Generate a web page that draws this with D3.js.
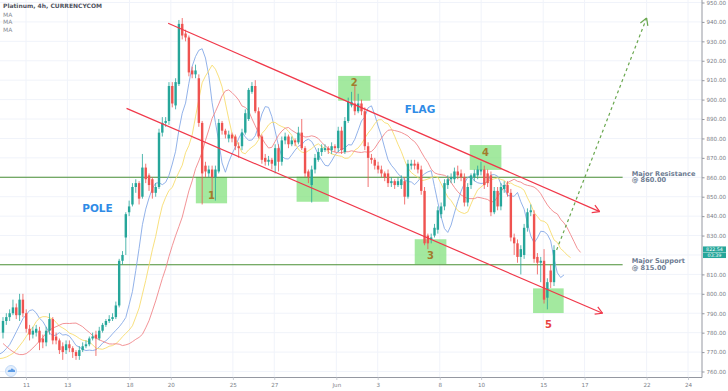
<!DOCTYPE html>
<html><head><meta charset="utf-8">
<script src="https://cdn.jsdelivr.net/npm/d3@7"></script>
<style>body{margin:0;background:#fff;} svg{display:block;font-family:"DejaVu Sans",sans-serif;}</style>
</head><body><svg id="c" width="728" height="391"></svg>
<script>
// ---------- DATA (Platinum, 4h candles) ----------
const opens  = [780,786,788,790,793,789,797,790,782,779,780,781,777,775,781,787,778,776,773,771,774,772,770,768,771,773,774,777,779,777,781,784,786,787,788,794,817,829,842,846,855,857,850,865,861,859,852,855,883,888,889,907,897,908,939,934,932,915,913,911,888,866,862,864,860,863,888,884,880,882,881,876,876,883,890,904,907,894,881,870,868,869,866,875,868,879,881,877,879,878,883,875,863,856,864,869,873,874,875,874,876,875,884,873,889,897,898,894,898,894,876,870,869,866,864,862,862,857,858,856,856,858,850,866,867,867,864,853,830,828,830,833,841,845,856,859,859,863,862,860,847,856,860,861,863,864,862,861,842,853,845,854,856,852,829,826,819,820,834,842,841,819,816,817,798,812,806];
const highs  = [788,790,792,797,795,800,800,792,784,783,784,783,779,783,790,788,780,777,775,776,776,773,771,773,775,776,778,780,781,783,785,787,789,790,796,818,822,842,848,857,859,858,872,867,862,860,857,885,891,891,909,909,911,941,942,936,933,917,918,913,889,868,866,866,866,890,889,885,884,883,882,878,885,895,906,909,910,896,882,872,871,870,877,877,881,883,882,881,880,886,890,876,864,866,872,875,877,877,876,878,877,886,886,891,901,904,907,903,900,896,878,872,870,868,866,863,864,860,859,860,861,860,869,869,869,868,866,855,831,831,836,845,847,859,861,862,865,866,864,862,857,862,864,866,868,866,864,863,855,855,857,858,858,854,831,828,825,836,844,846,843,821,819,823,808,815,825];
const lows   = [777,784,786,789,787,786,788,780,776,777,778,771,772,773,779,774,774,769,766,769,770,767,766,766,770,772,773,776,768,776,780,783,785,786,787,793,815,820,840,845,852,846,849,857,853,849,850,854,881,886,887,896,895,907,931,930,912,911,911,886,846,860,860,849,848,862,882,880,878,878,874,870,874,882,889,903,893,880,867,866,866,864,862,863,866,877,875,876,876,877,874,860,857,847,862,868,871,873,872,872,873,873,872,872,888,896,892,893,892,874,855,867,864,862,860,858,855,855,854,855,854,846,849,864,864,862,851,825,823,826,829,831,839,843,854,857,857,859,858,845,845,854,858,859,861,854,855,840,841,843,843,852,850,827,820,816,810,818,832,840,816,810,806,795,792,803,804];
const closes = [786,788,790,793,789,797,790,782,779,781,782,775,775,781,787,776,776,771,770,774,772,770,768,771,773,774,777,778,777,781,784,786,787,788,794,817,820,841,845,855,857,849,865,859,856,852,855,883,888,889,907,898,909,939,933,932,914,913,915,888,862,863,864,860,864,888,884,882,882,880,876,875,883,893,905,907,894,881,869,868,869,867,875,868,879,881,877,879,878,883,875,862,860,864,870,873,875,875,874,876,875,884,874,889,899,899,894,898,894,876,870,869,866,864,862,860,857,858,856,858,859,850,867,867,866,864,853,826,826,829,834,843,845,857,859,860,863,861,860,847,855,861,862,864,864,856,857,842,853,845,855,856,852,829,826,819,823,834,842,843,818,816,817,797,806,806,822.54];
// closes of the bars just before the visible window (only feed the moving averages)
const warmupCloses = [788,790,787,785,780,776,772,768,766,765,767,764,766,768,767,769,770,771,773,776,779];

// price 820.00 is hidden behind the last-price badge in the reference
const priceTicks = [760,770,780,790,800,810,830,840,850,860,870,880,890,900,910,920,930,940,950];
const gridPrices = [760,770,780,790,800,810,820,830,840,850,860,870,880,890,900,910,920,930,940,950];
const dateTickDays   = [0,2,5,7,10,12,15,17,20,22,25,27,30,32];   // trading-day index from 11 May
const dateTickLabels = ["11","13","18","20","25","27","Jun","3","8","10","15","17","22","24"];
const firstBarDay = -1.112, lastBarDay = 25.523;

const maLengths = [5, 9, 14];
const maOffsets = [3, 5, 8];
const maLabels  = ["MA","MA","MA"];

const levelPrices = [860, 815];
const levelTexts  = [["Major Resistance","@ 860.00"],["Major Support","@ 815.00"]];
const levelEndDay = 28.84, levelTextDay = 29.28;

const channelUpper = [[6.87, 939.3],[27.73, 842.3]];
const channelLower = [[4.86, 895.5],[27.87, 790.0]];
const projection   = [[25.65, 822.6],[30.0, 942.0]];

const boxes = [
  {d0:8.21, d1:9.72, p0:860.1, p1:846.6, label:"1", lp:850.5},
  {d0:13.08,d1:14.64,p0:860.3, p1:847.4, label:"",  lp:0},
  {d0:15.09,d1:16.65,p0:912.2, p1:899.4, label:"2", lp:908.5},
  {d0:18.79,d1:20.32,p0:828.1, p1:815.2, label:"3", lp:819.5},
  {d0:21.45,d1:22.98,p0:876.6, p1:863.8, label:"4", lp:872.6},
  {d0:24.51,d1:25.99,p0:802.8, p1:790.1, label:"5", lp:784.0}
];
const lastPrice = 822.54, lastTime = "03:39";

// ---------- CHART ----------
const svg = d3.select("#c");
const W = 728, H = 391, PR = 702, PB = 377.5;
const y = d3.scaleLinear().domain([760, 950]).range([371.5, 2.5]);
const xDay = d3.scaleLinear().domain([0, 32]).range([26, 688]);
const N = closes.length;
const xIdx = d3.scaleLinear().domain([0, N-1]).range([xDay(firstBarDay), xDay(lastBarDay)]);

svg.append("rect").attr("width", W).attr("height", H).attr("fill", "#fff");
svg.append("defs").append("clipPath").attr("id","clip").append("rect")
  .attr("x",0).attr("y",0).attr("width",PR).attr("height",PB);

// grid
const grid = svg.append("g");
grid.selectAll("line.h").data(gridPrices).join("line")
  .attr("x1",0).attr("x2",PR).attr("y1",d=>y(d)).attr("y2",d=>y(d))
  .attr("stroke","#f0f3fa").attr("stroke-width",1);
grid.selectAll("line.v").data(dateTickDays).join("line")
  .attr("x1",d=>xDay(d)).attr("x2",d=>xDay(d)).attr("y1",0).attr("y2",PB)
  .attr("stroke","#f0f3fa").attr("stroke-width",1);

const plot = svg.append("g").attr("clip-path","url(#clip)");

// green boxes
plot.selectAll("rect.box").data(boxes).join("rect")
  .attr("x", d=>xDay(d.d0)).attr("y", d=>y(d.p0))
  .attr("width", d=>xDay(d.d1)-xDay(d.d0)).attr("height", d=>y(d.p1)-y(d.p0))
  .attr("fill","#7fe07a").attr("fill-opacity",0.72);

// level lines
plot.selectAll("line.lvl").data(levelPrices).join("line")
  .attr("x1",0).attr("x2",xDay(levelEndDay)).attr("y1",d=>y(d)).attr("y2",d=>y(d))
  .attr("stroke","#4a8f35").attr("stroke-width",1.1);

// moving averages
const allCloses = warmupCloses.concat(closes);
const W0 = warmupCloses.length;
const maColors = ["#86a9e6","#f7dc6f","#f0878a"];
maLengths.forEach((len, k) => {
  const pts = [];
  for (let j = len-1; j < allCloses.length; j++) {
    const v = d3.mean(allCloses.slice(j-len+1, j+1));
    pts.push([xIdx(j - W0 + maOffsets[k]), y(v)]);
  }
  plot.append("path").attr("d", d3.line()(pts)).attr("fill","none")
    .attr("stroke", maColors[k]).attr("stroke-width", 0.9);
});

// candles
const up = "#26a69a", dn = "#ef5350";
const cg = plot.append("g");
const idx = d3.range(N);
cg.selectAll("line.w").data(idx).join("line")
  .attr("x1",i=>xIdx(i)).attr("x2",i=>xIdx(i)).attr("y1",i=>y(highs[i])).attr("y2",i=>y(lows[i]))
  .attr("stroke",i=>closes[i]>=opens[i]?up:dn).attr("stroke-width",0.8);
cg.selectAll("rect.b").data(idx).join("rect")
  .attr("x",i=>xIdx(i)-1.2).attr("width",2.4)
  .attr("y",i=>y(Math.max(opens[i],closes[i])))
  .attr("height",i=>Math.max(0.8, Math.abs(y(opens[i])-y(closes[i]))))
  .attr("fill",i=>closes[i]>=opens[i]?up:dn);

// channel lines with arrows
function arrowLine(pts, color, dash){
  const a = [xDay(pts[0][0]), y(pts[0][1])], b = [xDay(pts[1][0]), y(pts[1][1])];
  plot.append("line").attr("x1",a[0]).attr("y1",a[1]).attr("x2",b[0]).attr("y2",b[1])
    .attr("stroke",color).attr("stroke-width",1.2).attr("stroke-dasharray",dash||null);
  const ang = Math.atan2(b[1]-a[1], b[0]-a[0]), L = 8;
  [Math.PI*5/6, -Math.PI*5/6].forEach(t=>{
    plot.append("line").attr("x1",b[0]).attr("y1",b[1])
      .attr("x2",b[0]+L*Math.cos(ang+t)).attr("y2",b[1]+L*Math.sin(ang+t))
      .attr("stroke",color).attr("stroke-width",1.2);
  });
}
arrowLine(channelUpper, "#f0384a");
arrowLine(channelLower, "#f0384a");
arrowLine(projection, "#6aa84f", "3,3");

// box labels
plot.selectAll("text.bl").data(boxes.filter(d=>d.label)).join("text")
  .attr("x", d=>xDay((d.d0+d.d1)/2)).attr("y", d=>y(d.lp))
  .attr("text-anchor","middle").attr("dominant-baseline","middle")
  .attr("font-size",10).attr("font-weight","bold")
  .attr("fill", d=>d.label==="5" ? "#e8413f" : "#a27c2c").text(d=>d.label);

// POLE / FLAG
svg.append("text").attr("x",97.5).attr("y",208.5).attr("text-anchor","middle").attr("dominant-baseline","middle")
  .attr("font-size",10.5).attr("font-weight","bold").attr("fill","#2f8be6").text("POLE");
svg.append("text").attr("x",420).attr("y",109.5).attr("text-anchor","middle").attr("dominant-baseline","middle")
  .attr("font-size",10.5).attr("font-weight","bold").attr("fill","#2f8be6").text("FLAG");

// level annotations
levelTexts.forEach((lines, k) => {
  lines.forEach((t, j) => {
    svg.append("text").attr("x", xDay(levelTextDay)).attr("y", y(levelPrices[k]) - 3.5 + j*6.6)
      .attr("dominant-baseline","middle").attr("font-size",6.6).attr("font-weight","bold")
      .attr("fill","#6d7c92").text(t);
  });
});

// axes
svg.append("line").attr("x1",PR).attr("x2",PR).attr("y1",0).attr("y2",PB).attr("stroke","#9598a1").attr("stroke-width",1);
svg.append("line").attr("x1",0).attr("x2",PR).attr("y1",PB).attr("y2",PB).attr("stroke","#9598a1").attr("stroke-width",1);

const ya = svg.append("g").attr("transform",`translate(${PR},0)`)
  .call(d3.axisRight(y).tickValues(priceTicks).tickFormat(d3.format(".2f")).tickSize(2.5).tickPadding(2));
ya.select(".domain").remove();
ya.selectAll("line").attr("stroke","#9598a1");
ya.selectAll("text").attr("font-size",5.6).attr("fill","#7b7e87").attr("font-family","DejaVu Sans");

const xa = svg.append("g").attr("transform",`translate(0,${PB})`)
  .call(d3.axisBottom(xDay).tickValues(dateTickDays).tickFormat((d,i)=>dateTickLabels[i]).tickSize(2.5).tickPadding(3));
xa.select(".domain").remove();
xa.selectAll("line").attr("stroke","#c9ccd3");
xa.selectAll("text").attr("font-size",5.6).attr("fill","#7b7e87").attr("font-family","DejaVu Sans");

// last price label (two stacked badges)
const lp = y(lastPrice);
svg.append("rect").attr("x",PR+1).attr("y",lp-3.6).attr("width",23).attr("height",5.6).attr("fill",up);
svg.append("rect").attr("x",PR+1).attr("y",lp+2.4).attr("width",23).attr("height",5.6).attr("fill",up);
svg.append("text").attr("x",PR+12.5).attr("y",lp-0.8).attr("text-anchor","middle").attr("dominant-baseline","middle")
  .attr("font-size",4.8).attr("fill","#fff").text(lastPrice.toFixed(2));
svg.append("text").attr("x",PR+12.5).attr("y",lp+5.2).attr("text-anchor","middle").attr("dominant-baseline","middle")
  .attr("font-size",4.8).attr("fill","#fff").text(lastTime);

// legend
svg.append("text").attr("x",3).attr("y",6.3).attr("dominant-baseline","middle").attr("font-size",6)
  .attr("font-weight","bold").attr("fill","#50535e").text("Platinum, 4h, CURRENCYCOM");
svg.selectAll("text.ma").data(maLabels).join("text").attr("x",3).attr("y",(d,i)=>15.3+i*7.4)
  .attr("dominant-baseline","middle").attr("font-size",6).attr("fill","#8a8d96").text(d=>d);

// logo mark
svg.append("circle").attr("cx",11).attr("cy",371).attr("r",5.5).attr("fill","#e3eefc").attr("stroke","#b7d3f5").attr("stroke-width",0.8);
svg.append("path").attr("d","M7.5,372 q1,-3 3,-2 q1,-2.5 3,-0.5 q2,0 1.5,2.5 z").attr("fill","#5b9be6");
</script></body></html>
